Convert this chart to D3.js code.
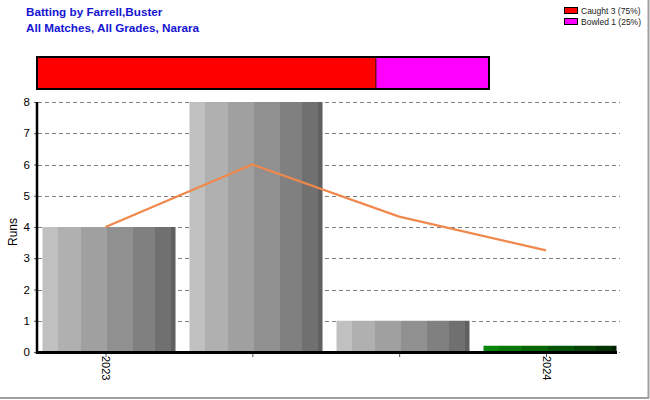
<!DOCTYPE html>
<html><head><meta charset="utf-8">
<script src="https://cdn.jsdelivr.net/npm/d3@7"></script>
<style>body{margin:0;background:#fff}svg{display:block;font-family:"Liberation Sans",Arial,sans-serif}</style>
</head><body><svg id="c" width="650" height="400"></svg>
<script>
// ---- data ----
const titleLines = ["Batting by Farrell,Buster", "All Matches, All Grades, Narara"];
const categories = ["2023", "", "", "2024"];
const runs = [4, 8, 1, 0];
const barKinds = ["gray", "gray", "gray", "green"];
const zeroBarHeight = 0.2;               // visible stub drawn for a 0 score
const average = [4, 6, 4.333, 3.25];
const yTicks = [0, 1, 2, 3, 4, 5, 6, 7, 8];
const dismissalLabels = ["Caught 3 (75%)", "Bowled 1 (25%)"];
const dismissalCounts = [3, 1];
const dismissalColors = ["#ff0000", "#ff00ff"];
const grayStripes = ["#c0c0c0", "#b0b0b0", "#a0a0a0", "#909090", "#808080", "#707070", "#606060"];
const greenStripes = ["#0a870a", "#087608", "#066506", "#055405", "#044304", "#033203", "#022102"];
const stripeStops = [0, 0.113, 0.289, 0.482, 0.678, 0.849, 0.965, 1];

const svg = d3.select("#c");

// frame (right & bottom)
svg.append("line").attr("x1", 648.5).attr("x2", 648.5).attr("y1", 0).attr("y2", 398.5).attr("stroke", "#a0a0a0").attr("stroke-width", 2);
svg.append("line").attr("x1", 0).attr("x2", 649).attr("y1", 398).attr("y2", 398).attr("stroke", "#a0a0a0").attr("stroke-width", 2);

// title
svg.selectAll("text.title").data(titleLines).join("text")
  .attr("x", 26).attr("y", (d, i) => 16 + i * 15.5)
  .attr("fill", "#1414d2").attr("font-weight", "bold").attr("font-size", 11.7)
  .text(d => d);

// legend
const leg = svg.append("g");
dismissalLabels.forEach((t, i) => {
  leg.append("rect").attr("x", 564.5).attr("y", 7.5 + i * 11).attr("width", 13).attr("height", 6)
    .attr("fill", dismissalColors[i]).attr("stroke", "#000").attr("stroke-width", 1);
  leg.append("text").attr("x", 581).attr("y", 13.5 + i * 11).attr("font-size", 8.5).attr("fill", "#222").text(t);
});

// stacked dismissal bar
const total = d3.sum(dismissalCounts);
const dx = d3.scaleLinear().domain([0, total]).range([37, 489]);
let acc = 0;
const segs = dismissalCounts.map((c, i) => { const s = {x0: acc, x1: acc + c, color: dismissalColors[i]}; acc += c; return s; });
svg.selectAll("rect.seg").data(segs).join("rect")
  .attr("x", d => dx(d.x0)).attr("y", 57).attr("width", d => dx(d.x1) - dx(d.x0)).attr("height", 32)
  .attr("fill", d => d.color).attr("stroke", "#3a1010").attr("stroke-width", 0.8);
svg.append("rect").attr("x", dx(0)).attr("y", 57).attr("width", dx(total) - dx(0)).attr("height", 32)
  .attr("fill", "none").attr("stroke", "#000").attr("stroke-width", 2);

// scales
const y = d3.scaleLinear().domain([0, 8]).range([352, 102]);
const idx = d3.range(categories.length);
const xb = d3.scaleBand().domain(idx).range([38, 621]).paddingInner(0.095).paddingOuter(0.0305);
const xp = d3.scalePoint().domain(idx).range([105.5, 546]);

// gradients
const defs = svg.append("defs");
function stripeGrad(id, cols) {
  const g = defs.append("linearGradient").attr("id", id).attr("x1", 0).attr("x2", 1).attr("y1", 0).attr("y2", 0);
  cols.forEach((c, i) => {
    g.append("stop").attr("offset", stripeStops[i]).attr("stop-color", c);
    g.append("stop").attr("offset", stripeStops[i + 1]).attr("stop-color", c);
  });
}
stripeGrad("gGray", grayStripes);
stripeGrad("gGreen", greenStripes);

// grid
svg.append("g").selectAll("line").data(yTicks).join("line")
  .attr("x1", 38).attr("x2", 620).attr("y1", d => Math.round(y(d)) + 0.5).attr("y2", d => Math.round(y(d)) + 0.5)
  .attr("stroke", "#808080").attr("stroke-width", 1).attr("stroke-dasharray", "4,3");

// bars
svg.append("g").selectAll("rect").data(idx).join("rect")
  .attr("x", i => xb(i)).attr("width", xb.bandwidth())
  .attr("y", i => y(runs[i] > 0 ? runs[i] : zeroBarHeight))
  .attr("height", i => y(0) - y(runs[i] > 0 ? runs[i] : zeroBarHeight))
  .attr("fill", i => barKinds[i] === "green" ? "url(#gGreen)" : "url(#gGray)");

// average line
svg.append("path").datum(idx)
  .attr("d", d3.line().x(i => xp(i)).y(i => y(average[i])))
  .attr("fill", "none").attr("stroke", "#f0884c").attr("stroke-width", 2.2);

// y axis
const yAxis = d3.axisLeft(y).tickValues(yTicks).tickSize(3).tickPadding(4).tickFormat(d3.format("d"));
const ga = svg.append("g").attr("transform", "translate(37,0)").call(yAxis);
ga.select(".domain").remove();
ga.selectAll("text").attr("font-size", 11.5).attr("fill", "#000").attr("font-family", "Liberation Sans, Arial");
ga.selectAll("line").attr("stroke", "#555");
svg.append("line").attr("x1", 37).attr("x2", 37).attr("y1", 102).attr("y2", 354).attr("stroke", "#000").attr("stroke-width", 2.5);

// x axis
const xAxis = d3.axisBottom(xp).tickSize(4).tickFormat(i => categories[i]);
const gx = svg.append("g").attr("transform", "translate(0,353)").call(xAxis);
gx.select(".domain").remove();
gx.selectAll("line").attr("stroke", "#555");
gx.selectAll("text").attr("font-size", 11).attr("fill", "#000").attr("font-family", "Liberation Sans, Arial")
  .attr("transform", "rotate(90)").attr("text-anchor", "start").attr("dy", "0.35em").attr("x", 3).attr("y", 0);
svg.append("line").attr("x1", 36).attr("x2", 617).attr("y1", 352.5).attr("y2", 352.5).attr("stroke", "#000").attr("stroke-width", 3);

// y title
svg.append("text").attr("transform", "translate(17,232) rotate(-90)").attr("text-anchor", "middle")
  .attr("font-size", 12).attr("fill", "#000").text("Runs");
</script></body></html>
